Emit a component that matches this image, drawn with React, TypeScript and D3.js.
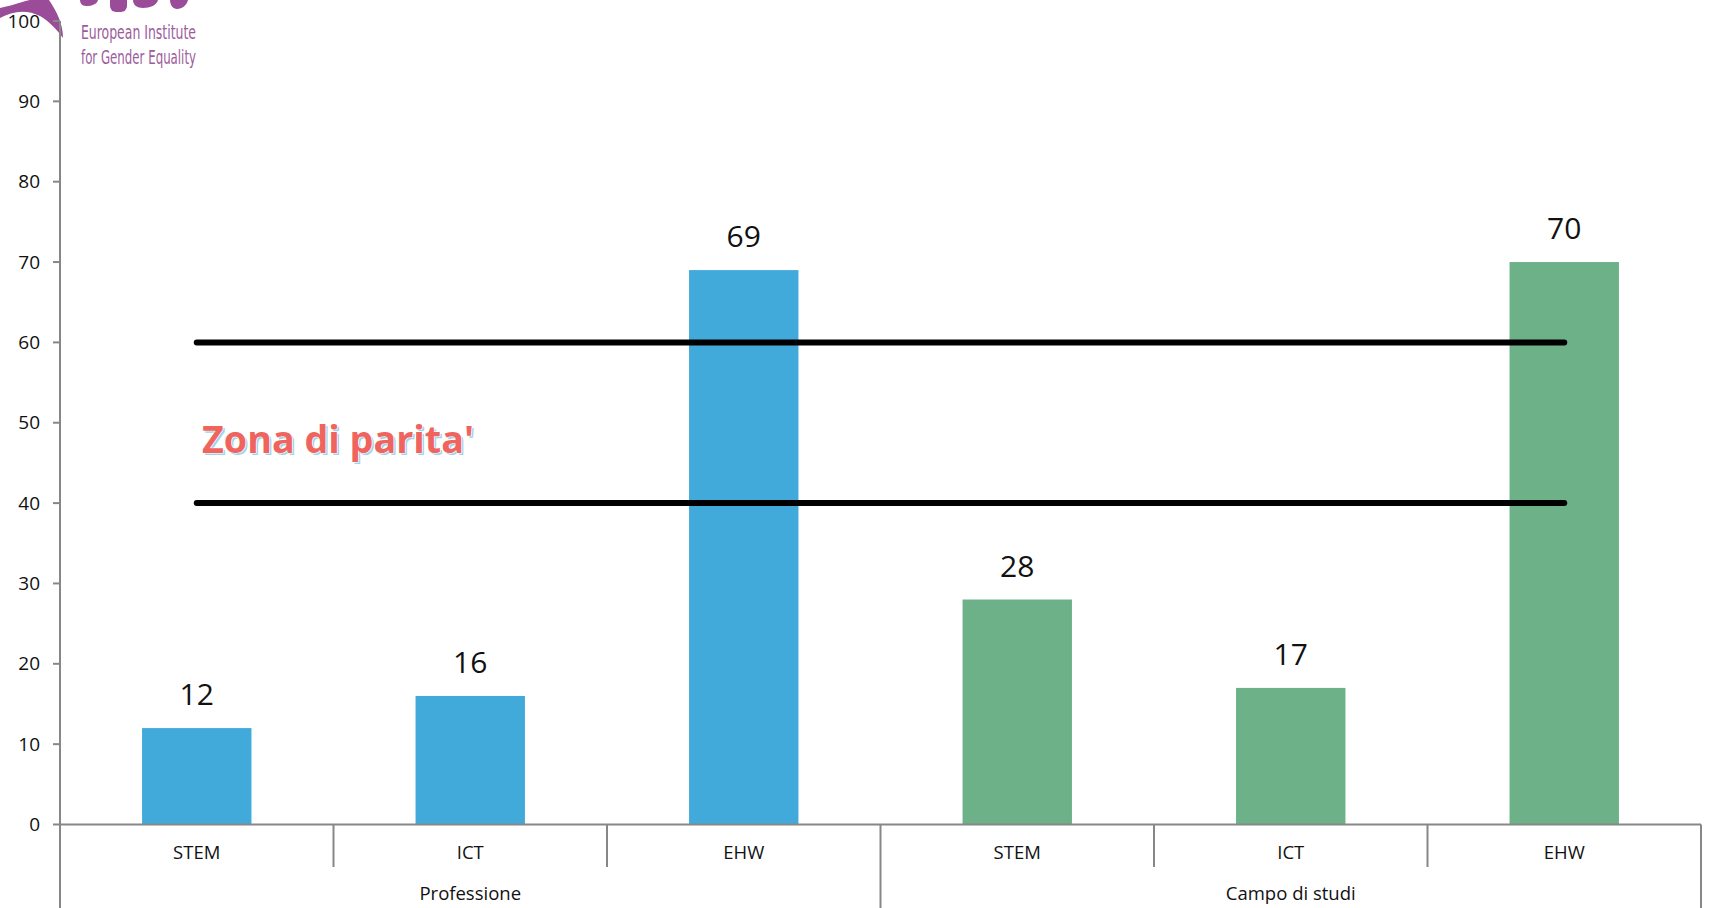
import React from "react";
import * as d3 from "d3";

const categories = ["STEM", "ICT", "EHW", "STEM", "ICT", "EHW"];
const groups = ["Professione", "Campo di studi"];
const values = [12, 16, 69, 28, 17, 70];
const groupOf = [0, 0, 0, 1, 1, 1];
const yTicks = [0, 10, 20, 30, 40, 50, 60, 70, 80, 90, 100];
const parityBand = [40, 60];
const parityLabel = "Zona di parita'";
const logoLines = ["European Institute", "for Gender Equality"];

const W = 1710;
const H = 908;
const colors = ["#42aadb", "#6cb187"];
const axisColor = "#878787";
const font = "'Open Sans', sans-serif";

export default function App() {
  const x = d3
    .scaleBand<number>()
    .domain(d3.range(categories.length))
    .range([60, 1701])
    .padding(0);
  const y = d3.scaleLinear().domain([0, 100]).range([824.5, 21]);
  const bw = x.bandwidth();
  const barW = bw * 0.4;
  const x0 = x(0)!;
  const xEnd = x(categories.length - 1)! + bw;
  const xMid = x(3)!;
  const centerFirst = x0 + bw / 2;
  const centerLast = x(categories.length - 1)! + bw / 2;

  return (
    <svg
      width={W}
      height={H}
      style={{ position: "absolute", left: 0, top: 0, background: "#fff" }}
      fontFamily={font}
    >
      {/* logo fragment */}
      <g fill="#9a4c98">
        <path d="M0,8 C14,5 24,1 30,0 L49,0 C57,12 63,24 63,38 C57,30 50,22 40,16 C27,9 12,11 0,18 Z" />
        <path d="M80,0 L98,0 C97,4 92,6 86,6 C82,6 80,3 80,0 Z" />
        <rect x={110} y={-6} width={17} height={18} rx={6} />
        <path d="M133,0 L158,0 C157,5 150,8 143,8 C137,8 133,5 133,0 Z" />
        <path d="M170,0 L188,0 C187,5 182,9 177,9 C173,9 170,5 170,0 Z" />
      </g>
      {logoLines.map((t, i) => (
        <text
          key={t}
          x={81}
          y={39 + i * 25}
          fontSize={19}
          fill="#9c5c9c"
          textLength={115}
          lengthAdjust="spacingAndGlyphs"
          fontFamily="'Liberation Sans Narrow', 'DejaVu Sans Condensed', sans-serif"
        >
          {t}
        </text>
      ))}

      {/* y axis */}
      <line x1={60} x2={60} y1={y(100)} y2={H} stroke={axisColor} strokeWidth={2} />
      {yTicks.map((t) => (
        <g key={t}>
          <line x1={53} x2={60} y1={y(t)} y2={y(t)} stroke={axisColor} strokeWidth={2} />
          <text
            x={40}
            y={y(t)}
            dy="0.35em"
            textAnchor="end"
            fontSize={19}
            fill="#111"
          >
            {t}
          </text>
        </g>
      ))}

      {/* bars */}
      {values.map((v, i) => {
        const bx = x(i)! + (bw - barW) / 2;
        return (
          <g key={i}>
            <rect
              x={bx}
              y={y(v)}
              width={barW}
              height={y(0) - y(v)}
              fill={colors[groupOf[i]]}
            />
            <text
              x={bx + barW / 2}
              y={y(v) - 23}
              textAnchor="middle"
              fontSize={30}
              fill="#111"
            >
              {v}
            </text>
          </g>
        );
      })}

      {/* x axis */}
      <line x1={60} x2={xEnd} y1={y(0)} y2={y(0)} stroke={axisColor} strokeWidth={2} />
      {d3.range(1, categories.length).map((i) => (
        <line
          key={i}
          x1={x(i)!}
          x2={x(i)!}
          y1={y(0)}
          y2={i === 3 ? H : 867}
          stroke={axisColor}
          strokeWidth={2}
        />
      ))}
      <line x1={xEnd} x2={xEnd} y1={y(0)} y2={H} stroke={axisColor} strokeWidth={2} />
      {categories.map((c, i) => (
        <text
          key={i}
          x={x(i)! + bw / 2}
          y={859}
          textAnchor="middle"
          fontSize={18.5}
          fill="#111"
        >
          {c}
        </text>
      ))}
      {groups.map((g, gi) => (
        <text
          key={g}
          x={gi === 0 ? (x0 + xMid) / 2 : (xMid + xEnd) / 2}
          y={900}
          textAnchor="middle"
          fontSize={18.5}
          fill="#111"
        >
          {g}
        </text>
      ))}

      {/* parity zone */}
      {parityBand.map((p) => (
        <line
          key={p}
          x1={centerFirst}
          x2={centerLast}
          y1={y(p)}
          y2={y(p)}
          stroke="#000"
          strokeWidth={6}
          strokeLinecap="round"
        />
      ))}
      <text
        x={204}
        y={455}
        fontSize={37}
        fontWeight="bold"
        fill="#9fd4ea"
        textLength={272}
        lengthAdjust="spacingAndGlyphs"
      >
        {parityLabel}
      </text>
      <text
        x={202}
        y={453}
        fontSize={37}
        fontWeight="bold"
        fill="#f0645f"
        stroke="#fff"
        strokeWidth={1.2}
        paintOrder="stroke"
        textLength={272}
        lengthAdjust="spacingAndGlyphs"
      >
        {parityLabel}
      </text>
    </svg>
  );
}
